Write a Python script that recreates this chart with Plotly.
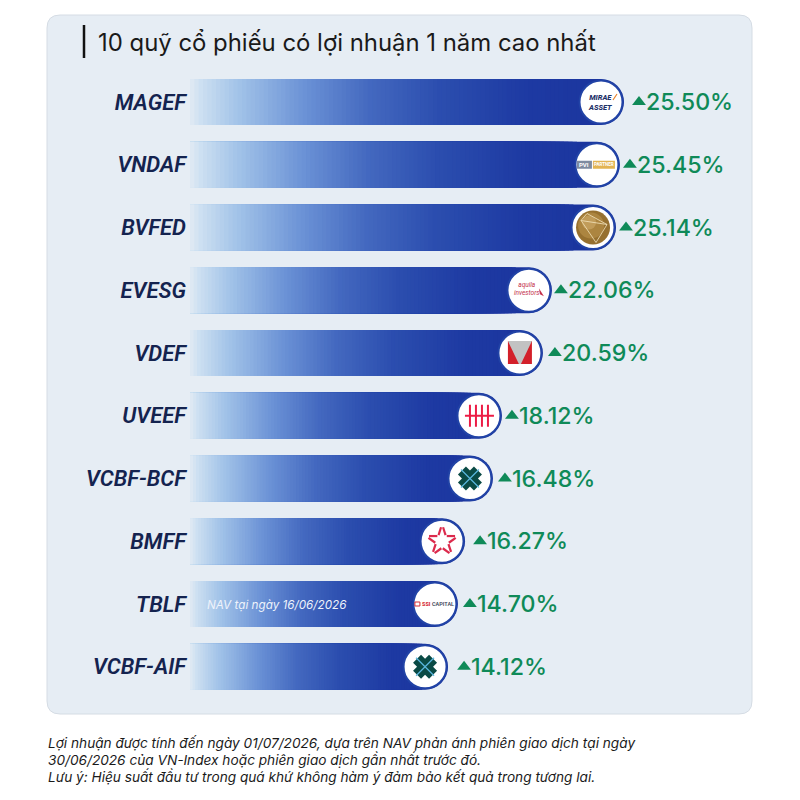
import math

import plotly.graph_objects as go

funds = ["MAGEF", "VNDAF", "BVFED", "EVESG", "VDEF", "UVEEF", "VCBF-BCF", "BMFF", "TBLF", "VCBF-AIF"]
returns = [25.50, 25.45, 25.14, 22.06, 20.59, 18.12, 16.48, 16.27, 14.70, 14.12]
# the bars in the picture are not quite proportional to the labels, these are read off the bar ends
bar_lengths = [25.53, 25.29, 25.06, 21.29, 20.76, 18.35, 17.82, 16.18, 15.76, 15.18]
logos = ["mirae", "pvi", "globe", "evesg", "vdef", "uob", "cross", "star", "ssi", "cross"]

title = "10 quỹ cổ phiếu có lợi nhuận 1 năm cao nhất"
nav_note = "NAV tại ngày 16/06/2026"
footnotes = [
    "Lợi nhuận được tính đến ngày 01/07/2026, dựa trên NAV phản ánh phiên giao dịch tại ngày",
    "30/06/2026 của VN-Index hoặc phiên giao dịch gần nhất trước đó.",
    "Lưu ý: Hiệu suất đầu tư trong quá khứ không hàm ý đảm bảo kết quả trong tương lai.",
]

# layout only: px between bar end and the start of the label, differs per row in the original
label_gaps = [23, 18, 18, 17, 20, 18, 20, 23, 20, 24]

# gradient along each bar: (fraction of bar, rgb)
grad_stops = [
    (0.00, (230, 237, 244)), (0.03, (205, 224, 242)), (0.115, (163, 196, 233)),
    (0.27, (107, 146, 214)), (0.42, (68, 105, 192)), (0.58, (44, 78, 175)),
    (0.78, (30, 58, 163)), (1.00, (27, 53, 158)),
]
N_STEPS = 90

PX_PER_UNIT = 17.0
LEFT = 190
ROW_H = 62.75
NAVY = "#14234f"
GREEN = "#0f8a58"
BLUE = "#2143a6"
FONT = "Inter"


def paper_x(px):
    return (px - LEFT) / (800 - LEFT)


def paper_y(py):
    return 1 - py / 800


def grad_color(f):
    for (f0, c0), (f1, c1) in zip(grad_stops, grad_stops[1:]):
        if f <= f1:
            t = (f - f0) / (f1 - f0)
            return "rgb(%d,%d,%d)" % tuple(a + (b - a) * t for a, b in zip(c0, c1))
    return "rgb(%d,%d,%d)" % grad_stops[-1][1]


fig = go.Figure()

# full length bar first (rounded end), then shorter and lighter ones on top of it
bar_w = 46 / ROW_H
fig.add_trace(go.Bar(y=funds, x=bar_lengths, orientation="h", width=bar_w,
                     marker=dict(color=grad_color(1.0), cornerradius=23, line_width=0),
                     hoverinfo="skip"))
for k in range(N_STEPS):
    f = 0.9 * (N_STEPS - k) / N_STEPS
    fig.add_trace(go.Bar(y=funds, x=[v * f for v in bar_lengths], orientation="h", width=bar_w,
                         marker=dict(color=grad_color(f), line_width=0), hoverinfo="skip"))

# white logo discs at the bar ends
disc_x = [v - 23 / PX_PER_UNIT for v in bar_lengths]
fig.add_trace(go.Scatter(y=funds, x=disc_x, mode="markers", hoverinfo="skip",
                         marker=dict(size=43, color="white", line=dict(color=BLUE, width=2))))

# triangles
fig.add_trace(go.Scatter(y=funds, x=[v + (g - 8) / PX_PER_UNIT for v, g in zip(bar_lengths, label_gaps)],
                         mode="markers", hoverinfo="skip",
                         marker=dict(symbol="triangle-up", size=12, color=GREEN)))

shapes = []
# panel
x0, x1, y0, y1, r = paper_x(47), paper_x(752), paper_y(15), paper_y(714), 13
rx, ry = r / 610, r / 800
shapes.append(dict(
    type="path", xref="paper", yref="paper", layer="below",
    path=f"M {x0 + rx} {y0} L {x1 - rx} {y0} Q {x1} {y0} {x1} {y0 - ry} L {x1} {y1 + ry} "
         f"Q {x1} {y1} {x1 - rx} {y1} L {x0 + rx} {y1} Q {x0} {y1} {x0} {y1 + ry} "
         f"L {x0} {y0 - ry} Q {x0} {y0} {x0 + rx} {y0} Z",
    fillcolor="#e6edf4", line=dict(color="#d5dce4", width=1)))
# title rule
shapes.append(dict(type="line", xref="paper", yref="paper", x0=paper_x(84), x1=paper_x(84),
                   y0=paper_y(25), y1=paper_y(58), line=dict(color="#111111", width=2.5)))


def logo_shape(cx, fund, path, fill="rgba(0,0,0,0)", line=None):
    shapes.append(dict(type="path", layer="above", xref="x", yref="y",
                       xsizemode="pixel", ysizemode="pixel", xanchor=cx, yanchor=fund,
                       path=path, fillcolor=fill, line=line or dict(width=0)))


def logo_circle(cx, fund, dx, dy, radius, fill):
    shapes.append(dict(type="circle", layer="above", xref="x", yref="y",
                       xsizemode="pixel", ysizemode="pixel", xanchor=cx, yanchor=fund,
                       x0=dx - radius, x1=dx + radius, y0=dy - radius, y1=dy + radius,
                       fillcolor=fill, line=dict(width=0)))


annotations = []


def logo_text(cx, fund, text, dx, dy, size, color, **font):
    annotations.append(dict(x=cx, y=fund, xref="x", yref="y", xshift=dx, yshift=dy, text=text,
                            showarrow=False, font=dict(family="Roboto", size=size, color=color, **font)))


def polar(radius, deg):
    return radius * math.cos(math.radians(deg)), radius * math.sin(math.radians(deg))


for fund, cx, logo in zip(funds, disc_x, logos):
    if logo == "mirae":
        logo_text(cx, fund, "MIRAE<br>ASSET", -1, 0, 7.5, "#1d3168", weight=800, style="italic")
        logo_shape(cx, fund, "M 12 2 L 16 8", line=dict(color="#e8832a", width=1.2))
    elif logo == "pvi":
        logo_shape(cx, fund, "M -20 -4 L -5 -4 L -5 4 L -20 4 Z", fill="#7f8ba0")
        logo_shape(cx, fund, "M -4 -4 L 18 -4 L 18 4 L -4 4 Z", fill="#e3b452")
        logo_text(cx, fund, "PVI", -13, 0, 6, "white", weight=700)
        logo_text(cx, fund, "PARTNER", 7, 0, 4.5, "white", weight=700)
    elif logo == "globe":
        logo_circle(cx, fund, 0, 0, 17, "#96702f")
        logo_circle(cx, fund, -2, 2, 13, "#ac8540")
        logo_circle(cx, fund, -4, 5, 7, "#c19c5a")
        logo_shape(cx, fund, "M -12 7 L -6 14 L 14 3 L 3 -15 Z M -12 7 L 14 3",
                   line=dict(color="#f2e3bd", width=0.8))
    elif logo == "evesg":
        logo_text(cx, fund, "aquila<br>investors", -2, 1, 6.5, "#c4304a", style="italic")
        logo_shape(cx, fund, "M 10 2 L 15 -6 L 11 -4 Z", fill="#c4304a")
    elif logo == "vdef":
        logo_shape(cx, fund, "M -12 -11 L 12 -11 L 12 12 L -12 12 Z", fill="#d3202a")
        logo_shape(cx, fund, "M -12 12 L 12 12 L 1 -11 L -1 -11 Z", fill="#c2c2c2")
    elif logo == "uob":
        for dx in (-9, -3, 3, 9):
            logo_shape(cx, fund, f"M {dx} -11 L {dx} 11", line=dict(color="#ec1c45", width=2))
        logo_shape(cx, fund, "M -14 0 L 15 0", line=dict(color="#ec1c45", width=2))
    elif logo == "cross":
        logo_shape(cx, fund, "M -12 -4 L -4 -12 L 0 -8 L 4 -12 L 12 -4 L 8 0 L 12 4 L 4 12 "
                             "L 0 8 L -4 12 L -12 4 L -8 0 Z", fill="#0a4a45")
        logo_shape(cx, fund, "M -9 -9 L 9 9 M -9 9 L 9 -9", line=dict(color="#5bb8e0", width=1.2))
    elif logo == "star":
        # broken star outline
        for i in range(5):
            a = 90 + 72 * i
            for side in (-1, 1):
                ax, ay = polar(14, a + 4 * side)
                bx, by = polar(7, a + 30 * side)
                logo_shape(cx, fund, f"M {ax:.1f} {ay:.1f} L {bx:.1f} {by:.1f}",
                           line=dict(color="#dc2a4c", width=2.2))
    elif logo == "ssi":
        logo_text(cx, fund, "SSI", -8, 0, 5.5, "#d62b35", weight=800)
        logo_text(cx, fund, "CAPITAL", 8, 0, 5.5, "#3a4356", weight=600)
        logo_shape(cx, fund, "M -20 -2 L -15 -2 L -15 2 L -20 2 Z",
                   line=dict(color="#d62b35", width=1))

# return labels
for fund, v, g, ret in zip(funds, bar_lengths, label_gaps, returns):
    annotations.append(dict(x=v + (g - 3) / PX_PER_UNIT, y=fund, xref="x", yref="y", xanchor="left",
                            yanchor="middle", text="%.2f%%" % ret, showarrow=False,
                            font=dict(family=FONT, size=23.2, color=GREEN, weight=500)))

annotations.append(dict(x=paper_x(96), y=paper_y(43), xref="paper", yref="paper", xanchor="left",
                        yanchor="middle", text=title, showarrow=False,
                        font=dict(family=FONT, size=23.9, color="#1a1a1a")))
annotations.append(dict(x=paper_x(205), y=paper_y(605), xref="paper", yref="paper", xanchor="left",
                        yanchor="middle", text=nav_note, showarrow=False,
                        font=dict(family=FONT, size=11.7, color="#eef3fb", style="italic")))
for line, py in zip(footnotes, (743, 759, 776)):
    annotations.append(dict(x=paper_x(46), y=paper_y(py), xref="paper", yref="paper", xanchor="left",
                            yanchor="middle", text=line, showarrow=False,
                            font=dict(family=FONT, size=13.65, color="#1a1a1a", style="italic")))

fig.update_layout(
    width=800, height=800, showlegend=False, barmode="overlay",
    margin=dict(l=LEFT, r=0, t=0, b=0),
    paper_bgcolor="white", plot_bgcolor="rgba(0,0,0,0)",
    shapes=shapes, annotations=annotations,
    xaxis=dict(range=[0, 610 / PX_PER_UNIT], visible=False),
    # first row centre at y=102
    yaxis=dict(range=[(800 - 102) / ROW_H, -102 / ROW_H], type="category", categoryorder="array",
               categoryarray=funds, showgrid=False, zeroline=False, showline=False, ticks="",
               ticklabelstandoff=3,
               tickfont=dict(family="Roboto", size=22, color=NAVY, weight=600, style="italic")),
)

fig.write_html("out.html", config=dict(displayModeBar=False),
               post_script="document.body.style.margin='0';")
